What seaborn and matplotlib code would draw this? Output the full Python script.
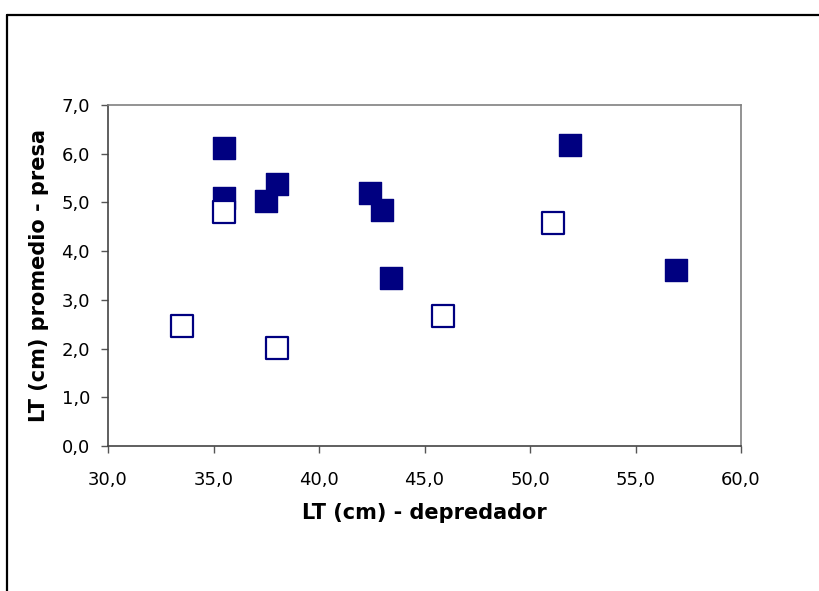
import numpy as np
import matplotlib.pyplot as plt
import pandas as pd
import seaborn as sns
from matplotlib.lines import Line2D
from matplotlib.ticker import MultipleLocator, FuncFormatter

# Values
# filled squares
lleno_x = [35.5, 35.5, 37.5, 38.0, 42.4, 43.0, 43.4, 51.9, 56.9]
lleno_y = [6.12, 5.10, 5.02, 5.37, 5.19, 4.84, 3.44, 6.17, 3.62]
# hollow squares
vacio_x = [33.5, 35.5, 38.0, 45.9, 51.1]
vacio_y = [2.46, 4.80, 2.01, 2.67, 4.57]

df_lleno = pd.DataFrame({"depredador": lleno_x, "presa": lleno_y})
df_vacio = pd.DataFrame({"depredador": vacio_x, "presa": vacio_y})

sns.set_style("white")
plt.rcParams['font.family'] = ['DejaVu Sans']
plt.rcParams['text.color'] = 'black'
plt.rcParams['axes.labelcolor'] = 'black'
plt.rcParams['xtick.color'] = 'black'
plt.rcParams['ytick.color'] = 'black'

navy = "#000080"

fig = plt.figure(figsize=(8.19, 5.91), dpi=100)
ax = fig.add_axes([108 / 819, 1 - 446 / 591, 633 / 819, 341 / 591])

# filled series first, hollow on top (as in the reference)
sns.scatterplot(data=df_lleno, x="depredador", y="presa", ax=ax, marker="s",
                s=250, color=navy, edgecolor=navy, linewidth=1, zorder=3)
sns.scatterplot(data=df_vacio, x="depredador", y="presa", ax=ax, marker="s",
                s=235, facecolor="white", edgecolor=navy, linewidth=1.6, zorder=4)

ax.set_xlim(30, 60)
ax.set_ylim(0, 7)
ax.xaxis.set_major_locator(MultipleLocator(5))
ax.yaxis.set_major_locator(MultipleLocator(1))
coma = FuncFormatter(lambda v, p: f"{v:.1f}".replace(".", ","))
ax.xaxis.set_major_formatter(coma)
ax.yaxis.set_major_formatter(coma)

ax.tick_params(axis="x", direction="out", length=5, width=1, color="#555555",
               pad=13, labelsize=13, labelcolor="black", bottom=True)
ax.tick_params(axis="y", direction="out", length=5, width=1, color="#555555",
               pad=8, labelsize=13, labelcolor="black", left=True)

for side in ["top", "right"]:
    ax.spines[side].set_color("#808080")
    ax.spines[side].set_linewidth(1.2)
for side in ["bottom", "left"]:
    ax.spines[side].set_color("#444444")
    ax.spines[side].set_linewidth(1.2)

ax.set_xlabel("LT (cm) - depredador", fontsize=15, fontweight="bold",
              labelpad=10, color="black")
ax.set_ylabel("LT (cm) promedio - presa", fontsize=15, fontweight="bold",
              labelpad=9, color="black")

# outer chart border (left and top visible in the reference)
fig.add_artist(Line2D([7 / 819, 7 / 819], [0, 1 - 15 / 591], transform=fig.transFigure,
                      color="black", linewidth=1.6))
fig.add_artist(Line2D([7 / 819, 1], [1 - 15 / 591, 1 - 15 / 591], transform=fig.transFigure,
                      color="black", linewidth=1.6))

fig.savefig("out.png", dpi=100, facecolor="white")
